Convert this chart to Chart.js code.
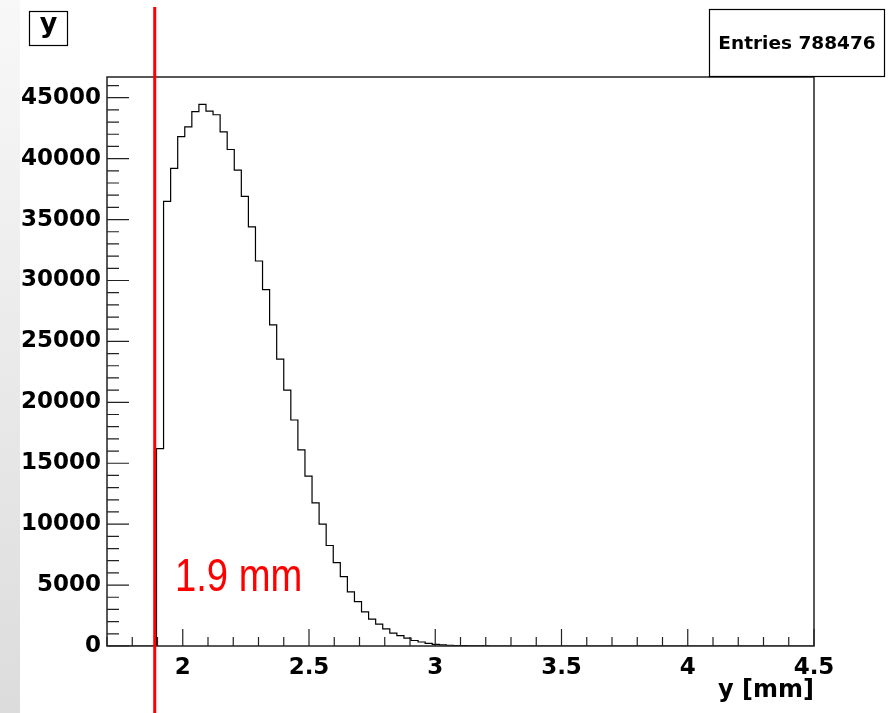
<!DOCTYPE html>
<html>
<head>
<meta charset="utf-8">
<script src="https://cdn.jsdelivr.net/npm/chart.js@4.4.1/dist/chart.umd.min.js"></script>
<style>
  html, body { margin: 0; padding: 0; background: #fff; }
  canvas { display: block; }
</style>
</head>
<body>
<canvas id="histo" width="891" height="713"></canvas>
<script>
// histogram: 100 bins from 1.7 to 4.5 mm
const binLow = 1.7;
const binWidth = 0.028;
const binCounts = [
  0, 0, 0, 0, 0, 0, 0, 16200, 36500, 39200,
  41800, 42600, 43850, 44450, 43900, 43600, 42200, 40750, 39050, 36900,
  34400, 31600, 29250, 26350, 23550, 21000, 18550, 16100, 13950, 11750,
  10000, 8250, 6850, 5700, 4450, 3650, 2800, 2200, 1800, 1400,
  1050, 850, 650, 450, 330, 210, 140, 90, 60, 40,
  25, 15, 10, 5, 0, 0, 0, 0, 0, 0,
  0, 0, 0, 0, 0, 0, 0, 0, 0, 0,
  0, 0, 0, 0, 0, 0, 0, 0, 0, 0,
  0, 0, 0, 0, 0, 0, 0, 0, 0, 0,
  0, 0, 0, 0, 0, 0, 0, 0, 0, 0
];
const xTicks = [2, 2.5, 3, 3.5, 4, 4.5];
const yTicks = [0, 5000, 10000, 15000, 20000, 25000, 30000, 35000, 40000, 45000];
const entries = 788476;
const cutValue = 1.889;
const cutLabel = '1.9 mm';

const points = binCounts.map((c, i) => ({ x: binLow + i * binWidth, y: c }));
points.push({ x: binLow + binCounts.length * binWidth, y: 0 });

const tickFont = { family: 'DejaVu Sans', weight: 'bold', size: 23 };

const rootStyle = {
  id: 'rootStyle',
  beforeDraw(chart) {
    const c = chart.ctx;
    c.save();
    c.fillStyle = '#fff';
    c.fillRect(0, 0, chart.width, chart.height);
    const g = c.createLinearGradient(0, 0, 0, chart.height);
    g.addColorStop(0, '#f8f8f8');
    g.addColorStop(1, '#dcdcdc');
    c.fillStyle = g;
    c.fillRect(0, 0, 20, chart.height);
    c.restore();
  },
  afterDraw(chart) {
    const c = chart.ctx;
    const a = chart.chartArea;
    const xs = chart.scales.x, ys = chart.scales.y;
    c.save();
    // frame
    c.strokeStyle = '#222';
    c.lineWidth = 1.5;
    c.strokeRect(a.left, a.top, a.right - a.left, a.bottom - a.top);
    // inward ticks
    c.beginPath();
    for (let k = 0; k <= 28; k++) {
      const v = 1.7 + k * 0.1;
      const major = Math.abs(v * 2 - Math.round(v * 2)) < 1e-6;
      const px = xs.getPixelForValue(v);
      c.moveTo(px, a.bottom);
      c.lineTo(px, a.bottom - (major ? 17 : 9));
    }
    for (let k = 0; k <= 46; k++) {
      const py = ys.getPixelForValue(k * 1000);
      c.moveTo(a.left, py);
      c.lineTo(a.left + (k % 5 === 0 ? 22 : 12), py);
    }
    c.lineWidth = 1.2;
    c.stroke();

    // cut line
    const cx = xs.getPixelForValue(cutValue);
    c.strokeStyle = '#ff0000';
    c.lineWidth = 3;
    c.beginPath();
    c.moveTo(cx, 7);
    c.lineTo(cx, chart.height);
    c.stroke();

    c.fillStyle = '#ff0000';
    c.font = '46px "Liberation Sans", Arial, sans-serif';
    c.textAlign = 'left';
    c.textBaseline = 'alphabetic';
    c.save();
    c.translate(175, 591);
    c.scale(0.83, 1);
    c.fillText(cutLabel, 0, 0);
    c.restore();

    // axis title
    c.fillStyle = '#000';
    c.font = 'bold 24px "DejaVu Sans"';
    c.textAlign = 'right';
    c.fillText('y [mm]', a.right, 697);

    // stats box
    c.fillStyle = '#fff';
    c.fillRect(709, 9, 176, 68);
    c.strokeStyle = '#000';
    c.lineWidth = 1.2;
    c.strokeRect(709.5, 9.5, 175, 67);
    c.fillStyle = '#000';
    c.font = 'bold 18.5px "DejaVu Sans"';
    c.textAlign = 'center';
    c.textBaseline = 'middle';
    c.fillText('Entries ' + entries, 797, 44);

    // title box
    c.fillStyle = '#fff';
    c.fillRect(29, 11, 39, 35);
    c.strokeRect(29.5, 11.5, 38, 34);
    c.fillStyle = '#000';
    c.font = 'bold 27px "DejaVu Sans"';
    c.textBaseline = 'alphabetic';
    c.fillText('y', 48.5, 32);
    c.restore();
  }
};

const ctx = document.getElementById('histo');

new Chart(ctx, {
  type: 'line',
  data: {
    datasets: [{
      data: points,
      stepped: true,
      borderColor: '#000',
      borderWidth: 1.2,
      pointRadius: 0,
      fill: false
    }]
  },
  options: {
    responsive: false,
    animation: false,
    devicePixelRatio: 1,
    layout: { padding: { left: 0, top: 77, right: 77, bottom: 0 } },
    plugins: { legend: { display: false }, tooltip: { enabled: false } },
    scales: {
      x: {
        type: 'linear',
        min: 1.7,
        max: 4.5,
        grid: { display: false, drawTicks: false },
        border: { display: false },
        ticks: {
          font: tickFont, color: '#000', padding: 8,
          autoSkip: false, maxRotation: 0,
          callback: v => String(v)
        },
        afterBuildTicks: s => { s.ticks = xTicks.map(v => ({ value: v })); },
        afterFit: s => { s.height = 67; }
      },
      y: {
        type: 'linear',
        min: 0,
        max: 46700,
        grid: { display: false, drawTicks: false },
        border: { display: false },
        ticks: {
          font: tickFont, color: '#000', padding: 6,
          autoSkip: false,
          callback: v => String(v)
        },
        afterBuildTicks: s => { s.ticks = yTicks.map(v => ({ value: v })); },
        afterFit: s => { s.width = 107; }
      }
    }
  },
  plugins: [rootStyle]
});
</script>
</body>
</html>
